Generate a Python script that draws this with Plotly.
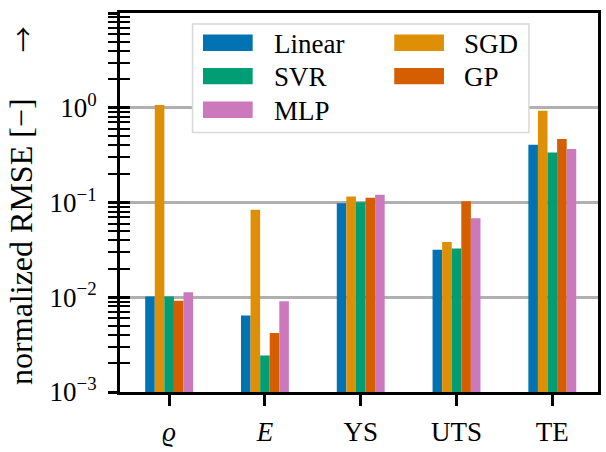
import plotly.graph_objects as go

# ---- data ----
categories = ["<i>ϱ</i>", "<i>E</i>", "YS", "UTS", "TE"]
linear = [0.0102, 0.0064, 0.098, 0.0318, 0.406]
sgd = [1.07, 0.084, 0.116, 0.0384, 0.93]
svr = [0.0102, 0.00243, 0.1005, 0.0326, 0.337]
gp = [0.0092, 0.0042, 0.1125, 0.103, 0.468]
mlp = [0.0113, 0.0091, 0.1205, 0.0683, 0.368]

series_names = ["Linear", "SGD", "SVR", "GP", "MLP"]
series_values = [linear, sgd, svr, gp, mlp]
series_colors = ["#0173b2", "#de8f05", "#029e73", "#d55e00", "#cc78bc"]

y_tick_vals = [1e-3, 1e-2, 1e-1, 1e0, 1e1]
y_tick_text = ["10<sup>−3</sup>", "10<sup>−2</sup>", "10<sup>−1</sup>", "10<sup>0</sup>", "10<sup>1</sup>"]
y_title = "normalized RMSE [−]"

FONT = "Liberation Serif"
TICK_SIZE = 27
W, H = 606, 452
ML, MR, MT, MB = 120, 5, 13, 47
PW, PH = W - ML - MR, H - MT - MB

minor_vals = [k * 10.0 ** d for d in range(-3, 1) for k in range(2, 10)]

fig = go.Figure()
x_idx = list(range(len(categories)))
for name, vals, col in zip(series_names, series_values, series_colors):
    fig.add_trace(go.Bar(x=x_idx, y=vals, name=name, marker=dict(color=col, line=dict(width=0)),
                         showlegend=False, width=0.1))

# helper trace for the inner-tick overlay axis
fig.add_trace(go.Scatter(x=[None], y=[None], yaxis="y2", showlegend=False, hoverinfo="skip"))


def px2paper_x(px):
    return (px - ML) / PW


def px2paper_y(py):
    return 1 - (py - MT) / PH


shapes = []
annotations = []

# manual legend (two columns, row-major like the reference)
shapes.append(dict(type="rect", xref="paper", yref="paper", layer="above",
                   x0=px2paper_x(193), x1=px2paper_x(531.5), y0=px2paper_y(24.5), y1=px2paper_y(136.5),
                   fillcolor="white", line=dict(color="#d9d9d9", width=1.5)))
legend_layout = [
    ("Linear", 0, 0), ("SGD", 1, 0), ("SVR", 0, 1), ("GP", 1, 1), ("MLP", 0, 2)
]
col_sw_x = [203.5, 396]
col_tx_x = [273, 464]
row_y = [43.7, 78.3, 113]
for name, c, r in legend_layout:
    color = series_colors[series_names.index(name)]
    shapes.append(dict(type="rect", xref="paper", yref="paper", layer="above",
                       x0=px2paper_x(col_sw_x[c]), x1=px2paper_x(col_sw_x[c] + 50),
                       y0=px2paper_y(row_y[r] - 8.5), y1=px2paper_y(row_y[r] + 8.5),
                       fillcolor=color, line=dict(width=0)))
    annotations.append(dict(text=name, xref="paper", yref="paper", x=px2paper_x(col_tx_x[c]),
                            y=px2paper_y(row_y[r] + 1), xanchor="left", yanchor="middle", showarrow=False,
                            font=dict(family=FONT, size=27, color="black")))

# y-axis title and arrow
annotations.append(dict(text=y_title, xref="paper", yref="paper", x=px2paper_x(0), y=px2paper_y(250),
                        xanchor="left", yanchor="middle", textangle=-90, showarrow=False,
                        font=dict(family=FONT, size=32, color="black")))
annotations.append(dict(text="→", xref="paper", yref="paper", x=px2paper_x(0), y=px2paper_y(40),
                        xanchor="left", yanchor="middle", textangle=-90, showarrow=False,
                        font=dict(family="Noto Sans CJK JP", size=26, color="black")))

fig.update_layout(
    width=W, height=H,
    margin=dict(l=ML, r=MR, t=MT, b=MB, pad=0),
    paper_bgcolor="white", plot_bgcolor="white",
    barmode="group", bargap=0.5, bargroupgap=0,
    font=dict(family=FONT, size=TICK_SIZE, color="black"),
    shapes=shapes, annotations=annotations,
    xaxis=dict(range=[-0.513, 4.477], tickmode="array", tickvals=x_idx, ticktext=categories,
               showline=True, linecolor="black", linewidth=3, mirror=True,
               ticks="outside", ticklen=11, tickwidth=3, tickcolor="black",
               showgrid=False, zeroline=False, ticklabelstandoff=3,
               tickfont=dict(family=FONT, size=TICK_SIZE, color="black")),
    yaxis=dict(type="log", range=[-3, 1], tickmode="array", tickvals=y_tick_vals, ticktext=y_tick_text,
               showline=True, linecolor="black", linewidth=3, mirror=True,
               ticks="outside", ticklen=9, tickwidth=3, tickcolor="black",
               showgrid=True, gridcolor="#b0b0b0", gridwidth=3, zeroline=False,
               minor=dict(tickmode="array", tickvals=minor_vals, ticks="outside", ticklen=9,
                          tickwidth=2, tickcolor="black", showgrid=False),
               tickfont=dict(family=FONT, size=TICK_SIZE, color="black"), ticklabelstandoff=6),
    yaxis2=dict(type="log", range=[-3, 1], overlaying="y", side="left", anchor="x",
                tickmode="array", tickvals=y_tick_vals, showticklabels=False,
                showline=False, showgrid=False, zeroline=False,
                ticks="inside", ticklen=10, tickwidth=3, tickcolor="black",
                minor=dict(tickmode="array", tickvals=minor_vals, ticks="inside", ticklen=10,
                           tickwidth=2, tickcolor="black", showgrid=False)),
)

fig.write_html("out.html")
